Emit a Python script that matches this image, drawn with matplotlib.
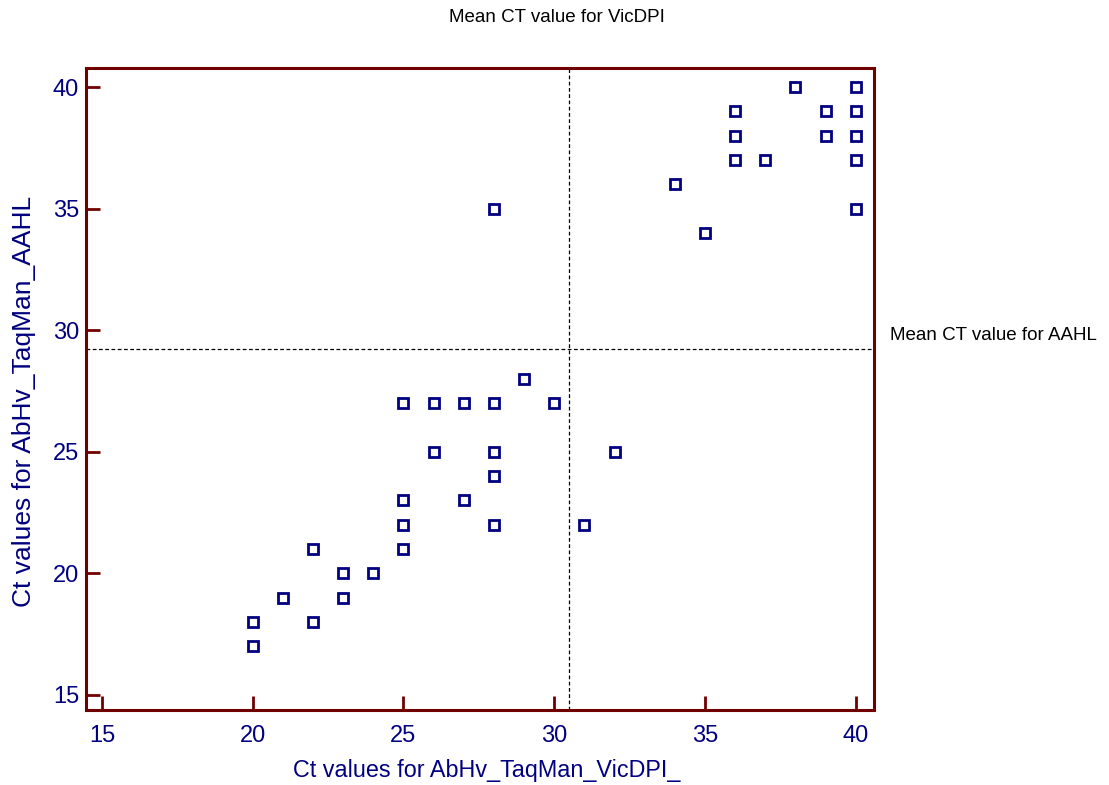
import matplotlib
matplotlib.use("Agg")
import matplotlib.pyplot as plt

plt.rcParams['font.family'] = ['Liberation Sans', 'DejaVu Sans']

# Ct values per sample: VicDPI assay (x) vs AAHL assay (y)
ct_vicdpi = [38, 40, 36, 39, 40, 36, 39, 40, 36, 37, 40, 34, 40, 35,
             28, 29, 25, 26, 27, 28, 30, 26, 28, 32, 28, 25, 27, 25,
             28, 31, 22, 25, 23, 24, 21, 23, 20, 22, 20]
ct_aahl = [40, 40, 39, 39, 39, 38, 38, 38, 37, 37, 37, 36, 35, 34,
           35, 28, 27, 27, 27, 27, 27, 25, 25, 25, 24, 23, 23, 22,
           22, 22, 21, 21, 20, 20, 19, 19, 18, 18, 17]

# mean Ct for each assay (reference lines)
mean_vicdpi = 30.48
mean_aahl = 29.23

ticks = [15, 20, 25, 30, 35, 40]

navy = '#000080'
frame = '#700000'

fig = plt.figure(figsize=(11.09, 7.85), dpi=100)
ax = fig.add_axes([0.0775, 0.0955, 0.7105, 0.8178])

ax.plot(ct_vicdpi, ct_aahl, linestyle='none', marker='s', markersize=7,
        markerfacecolor='white', markeredgecolor=navy, markeredgewidth=2)

ax.axvline(mean_vicdpi, color='black', linestyle=(0, (3, 2)), linewidth=0.9)
ax.axhline(mean_aahl, color='black', linestyle=(0, (3, 2)), linewidth=0.9)

ax.set_xlim(14.47, 40.6)
ax.set_ylim(14.38, 40.78)
ax.set_xticks(ticks)
ax.set_yticks(ticks)

for s in ax.spines.values():
    s.set_color(frame)
    s.set_linewidth(2.2)

ax.tick_params(direction='in', length=10, width=2, color=frame,
               labelcolor=navy, labelsize=17, pad=5)
ax.tick_params(axis='x', pad=11)

ax.set_xlabel('Ct values for AbHv_TaqMan_VicDPI_', color=navy, fontsize=16.8)
ax.set_ylabel('Ct values for AbHv_TaqMan_AAHL', color=navy, fontsize=19)
ax.xaxis.set_label_coords(0.508, -0.077)
ax.yaxis.set_label_coords(-0.063, 0.48)

fig.text(0.502, 1 - 18 / 785, 'Mean CT value for VicDPI', ha='center',
         va='center', fontsize=13.5, color='black')
fig.text(890 / 1109, 1 - 336 / 785, 'Mean CT value for AAHL', ha='left',
         va='center', fontsize=13.5, color='black')

fig.savefig('out.png', dpi=100)
